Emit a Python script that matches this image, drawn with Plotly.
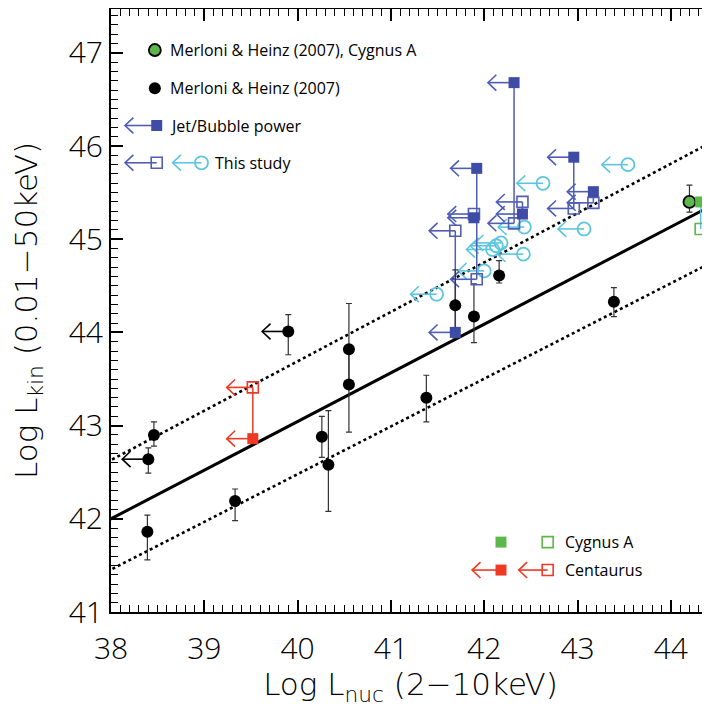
import plotly.graph_objects as go

# ---------------- data ----------------
# Merloni & Heinz (2007) sample (black circles)
mh_x = [38.39, 38.40, 38.46, 39.33, 40.26, 40.33, 40.55, 40.55, 39.90, 41.38, 41.69, 41.89, 42.16, 43.39]
mh_y = [41.86, 42.64, 42.90, 42.19, 42.88, 42.58, 43.44, 43.82, 44.01, 43.30, 44.29, 44.17, 44.61, 44.33]
mh_err_hi = [0.18, 0.12, 0.14, 0.13, 0.22, 0.58, 0.40, 0.49, 0.18, 0.24, 0.38, 0.35, 0.16, 0.15]
mh_err_lo = [0.30, 0.15, 0.12, 0.21, 0.22, 0.50, 0.51, 0.38, 0.25, 0.26, 0.35, 0.28, 0.08, 0.16]
# Merloni & Heinz points that are upper limits in L_nuc
mh_limit_x = [38.40, 39.90]
mh_limit_y = [42.64, 44.01]

# Merloni & Heinz (2007), Cygnus A
cygmh_x = [44.20]
cygmh_y = [45.40]
cygmh_err_hi = [0.18]
cygmh_err_lo = [0.11]

# Jet/Bubble power (filled) paired with This study (open squares)
jet_x = [41.92, 41.69, 41.89, 42.32, 42.41, 42.96, 43.17]
jet_power = [45.76, 44.00, 45.23, 46.68, 45.27, 45.88, 45.51]
jet_this = [44.57, 45.09, 45.27, 45.17, 45.40, 45.33, 45.39]

# This study (cyan open circles)
cyan_x = [43.54, 42.63, 43.07, 42.43, 42.18, 42.13, 42.09, 42.42, 42.00, 41.49]
cyan_y = [45.80, 45.60, 45.11, 45.13, 44.96, 44.93, 44.89, 44.84, 44.66, 44.41]

# Centaurus
cen_x = [39.52]
cen_power = [42.86]
cen_this = [43.41]

# Cygnus A
cyg_x = [44.32]
cyg_power = [45.40]
cyg_this = [45.11]

# correlation line and its scatter band: value at L_nuc = 38 and slope
fit_x = [37.5, 45.0]
fit_mid = (42.00, 0.522)
fit_up = (42.63, 0.530)
fit_lo = (41.455, 0.512)

x_ticks = [38, 39, 40, 41, 42, 43, 44]
y_ticks = [41, 42, 43, 44, 45, 46, 47]

# ---------------- styling ----------------
BLUE = "#3f4ca6"
BLUE_LINE = "#4f5db5"
CYAN = "#5cc6df"
RED = "#ee3a24"
GREEN = "#5cb84a"
FONT = "Open Sans"
TITLE_FONT = "DejaVu Sans"
ARROW_LEN = 0.28
HEAD_DX = 0.09
HEAD_DY = 0.085


def arrows(xs, ys, length=ARROW_LEN):
    px, py = [], []
    for x, y in zip(xs, ys):
        tip = x - length
        px += [x, tip, None, tip + HEAD_DX, tip, tip + HEAD_DX, None]
        py += [y, y, None, y + HEAD_DY, y, y - HEAD_DY, None]
    return px, py


def connectors(xs, y1, y2):
    px, py = [], []
    for x, a, b in zip(xs, y1, y2):
        px += [x, x, None]
        py += [a, b, None]
    return px, py


def line_y(p, xs):
    return [p[0] + p[1] * (x - 38) for x in xs]


fig = go.Figure()

# fit lines
fig.add_trace(go.Scatter(x=fit_x, y=line_y(fit_mid, fit_x), mode="lines",
                         line=dict(color="black", width=3)))
for p in (fit_up, fit_lo):
    fig.add_trace(go.Scatter(x=fit_x, y=line_y(p, fit_x), mode="lines",
                             line=dict(color="black", width=2.6, dash="dot")))

# arrows (upper limits)
ax_, ay_ = arrows(cyan_x, cyan_y)
fig.add_trace(go.Scatter(x=ax_, y=ay_, mode="lines", line=dict(color=CYAN, width=1.6)))
ax_, ay_ = arrows(jet_x + jet_x, jet_power + jet_this)
fig.add_trace(go.Scatter(x=ax_, y=ay_, mode="lines", line=dict(color=BLUE_LINE, width=1.6)))
ax_, ay_ = arrows(cen_x + cen_x, cen_power + cen_this)
fig.add_trace(go.Scatter(x=ax_, y=ay_, mode="lines", line=dict(color=RED, width=1.6)))
ax_, ay_ = arrows(mh_limit_x, mh_limit_y)
fig.add_trace(go.Scatter(x=ax_, y=ay_, mode="lines", line=dict(color="black", width=1.6)))

# connectors
cx, cy = connectors(jet_x, jet_power, jet_this)
fig.add_trace(go.Scatter(x=cx, y=cy, mode="lines", line=dict(color=BLUE_LINE, width=1.5)))
cx, cy = connectors(cen_x, cen_power, cen_this)
fig.add_trace(go.Scatter(x=cx, y=cy, mode="lines", line=dict(color=RED, width=1.5)))
cx, cy = connectors(cyg_x, cyg_power, cyg_this)
fig.add_trace(go.Scatter(x=cx, y=cy, mode="lines", line=dict(color=CYAN, width=1.5)))

# Merloni & Heinz points
fig.add_trace(go.Scatter(
    x=mh_x, y=mh_y, mode="markers",
    marker=dict(symbol="circle", size=12, color="black"),
    error_y=dict(type="data", symmetric=False, array=mh_err_hi, arrayminus=mh_err_lo,
                 color="#333333", thickness=1.2, width=3)))
fig.add_trace(go.Scatter(
    x=cygmh_x, y=cygmh_y, mode="markers",
    marker=dict(symbol="circle", size=12, color=GREEN, line=dict(color="black", width=1.8)),
    error_y=dict(type="data", symmetric=False, array=cygmh_err_hi, arrayminus=cygmh_err_lo,
                 color="#333333", thickness=1.2, width=3)))

# cyan circles
fig.add_trace(go.Scatter(x=cyan_x, y=cyan_y, mode="markers",
                         marker=dict(symbol="circle-open", size=13, color=CYAN, line=dict(width=1.8))))
# squares
fig.add_trace(go.Scatter(x=jet_x, y=jet_this, mode="markers",
                         marker=dict(symbol="square-open", size=11, color=BLUE_LINE, line=dict(width=1.6))))
fig.add_trace(go.Scatter(x=jet_x, y=jet_power, mode="markers",
                         marker=dict(symbol="square", size=11, color=BLUE)))
fig.add_trace(go.Scatter(x=cen_x, y=cen_this, mode="markers",
                         marker=dict(symbol="square-open", size=11, color=RED, line=dict(width=1.6))))
fig.add_trace(go.Scatter(x=cen_x, y=cen_power, mode="markers",
                         marker=dict(symbol="square", size=11, color=RED)))
fig.add_trace(go.Scatter(x=cyg_x, y=cyg_this, mode="markers", cliponaxis=False,
                         marker=dict(symbol="square-open", size=11, color=GREEN, line=dict(width=1.6))))
fig.add_trace(go.Scatter(x=cyg_x, y=cyg_power, mode="markers", cliponaxis=False,
                         marker=dict(symbol="square", size=11, color=GREEN)))

# ---------------- in-plot legends ----------------
LEG_X = 38.47
LEG_TX = 38.61
LEG_ROWS = [47.03, 46.62, 46.22, 45.82]
annotations = []


def label(x, y, text):
    annotations.append(dict(x=x, y=y, xref="x", yref="y", text=text, showarrow=False,
                             xanchor="left", yanchor="middle",
                             font=dict(family=FONT, size=16, color="black")))


fig.add_trace(go.Scatter(x=[LEG_X], y=[LEG_ROWS[0]], mode="markers",
                         marker=dict(symbol="circle", size=12, color=GREEN, line=dict(color="black", width=1.8))))
label(LEG_TX, LEG_ROWS[0], "Merloni &amp; Heinz (2007), Cygnus A")
fig.add_trace(go.Scatter(x=[LEG_X], y=[LEG_ROWS[1]], mode="markers",
                         marker=dict(symbol="circle", size=12, color="black")))
label(LEG_TX, LEG_ROWS[1], "Merloni &amp; Heinz (2007)")
lx, ly = arrows([LEG_X + 0.02, LEG_X + 0.02], [LEG_ROWS[2], LEG_ROWS[3]], 0.34)
fig.add_trace(go.Scatter(x=lx, y=ly, mode="lines", line=dict(color=BLUE_LINE, width=1.6)))
fig.add_trace(go.Scatter(x=[LEG_X + 0.02], y=[LEG_ROWS[2]], mode="markers",
                         marker=dict(symbol="square", size=11, color=BLUE)))
label(LEG_TX, LEG_ROWS[2], "Jet/Bubble power")
fig.add_trace(go.Scatter(x=[LEG_X + 0.02], y=[LEG_ROWS[3]], mode="markers",
                         marker=dict(symbol="square-open", size=11, color=BLUE_LINE, line=dict(width=1.6))))
lx, ly = arrows([38.97], [LEG_ROWS[3]], 0.31)
fig.add_trace(go.Scatter(x=lx, y=ly, mode="lines", line=dict(color=CYAN, width=1.6)))
fig.add_trace(go.Scatter(x=[38.97], y=[LEG_ROWS[3]], mode="markers",
                         marker=dict(symbol="circle-open", size=13, color=CYAN, line=dict(width=1.8))))
label(39.09, LEG_ROWS[3], "This study")

# bottom-right legend
BR_X1, BR_X2, BR_TX = 42.18, 42.68, 42.84
BR_ROWS = [41.75, 41.45]
fig.add_trace(go.Scatter(x=[BR_X1], y=[BR_ROWS[0]], mode="markers",
                         marker=dict(symbol="square", size=11, color=GREEN)))
fig.add_trace(go.Scatter(x=[BR_X2], y=[BR_ROWS[0]], mode="markers",
                         marker=dict(symbol="square-open", size=11, color=GREEN, line=dict(width=1.6))))
label(BR_TX, BR_ROWS[0], "Cygnus A")
lx, ly = arrows([BR_X1, BR_X2], [BR_ROWS[1], BR_ROWS[1]], 0.31)
fig.add_trace(go.Scatter(x=lx, y=ly, mode="lines", line=dict(color=RED, width=1.6)))
fig.add_trace(go.Scatter(x=[BR_X1], y=[BR_ROWS[1]], mode="markers",
                         marker=dict(symbol="square", size=11, color=RED)))
fig.add_trace(go.Scatter(x=[BR_X2], y=[BR_ROWS[1]], mode="markers",
                         marker=dict(symbol="square-open", size=11, color=RED, line=dict(width=1.6))))
label(BR_TX, BR_ROWS[1], "Centaurus")

axis_common = dict(
    showgrid=False, zeroline=False, showline=True, linecolor="black", linewidth=2,
    ticks="inside", ticklen=12, tickwidth=1.5, tickcolor="black", automargin=False,
    tickfont=dict(family=FONT, size=30, color="black", weight=300),
    minor=dict(dtick=0.1, ticks="inside", ticklen=7, tickwidth=1, tickcolor="black", showgrid=False),
)

# the page body adds an 8 px offset, so the figure is sized to the visible window
fig.update_layout(
    width=702, height=699,
    margin=dict(l=103, r=0, t=1, b=95),
    paper_bgcolor="white", plot_bgcolor="white",
    showlegend=False,
    font=dict(family=FONT, color="black"),
    annotations=annotations,
    xaxis=dict(range=[38, 44.42], tickvals=x_ticks, ticktext=[str(v) for v in x_ticks],
               mirror="ticks", ticklabelstandoff=9,
               title=dict(text="Log L<sub>nuc</sub> (2−10keV)", standoff=16,
                          font=dict(family=TITLE_FONT, size=31, color="black", weight=200)),
               **axis_common),
    yaxis=dict(range=[41, 47.47], tickvals=y_ticks, ticktext=[str(v) for v in y_ticks],
               ticklabelstandoff=0,
               title=dict(text="Log L<sub>kin</sub> (0.01−50keV)", standoff=23,
                          font=dict(family=TITLE_FONT, size=31, color="black", weight=200)),
               **axis_common),
)

fig.write_html("out.html")
